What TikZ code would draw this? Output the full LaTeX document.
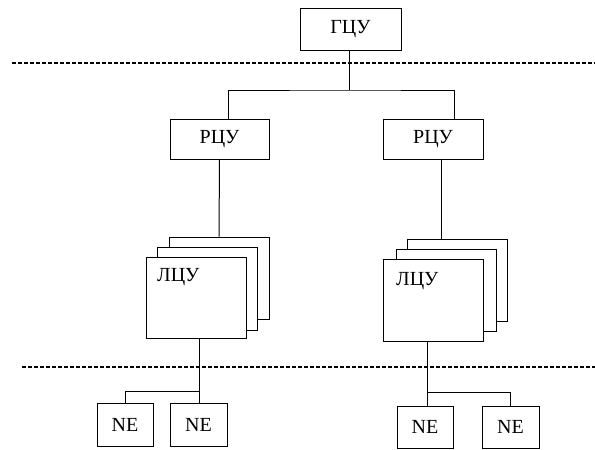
\documentclass[tikz,border=0pt]{standalone}
\usepackage{fontspec}
\setmainfont{Liberation Serif}
\begin{document}
\begin{tikzpicture}[x=1pt,y=-1pt,
  box/.style={draw,line width=1pt,fill=white,inner sep=0pt,font=\fontsize{20}{22}\selectfont},
  wire/.style={line width=1pt},
  sep/.style={line width=2pt,dash pattern=on 4pt off 2pt},
  lbl/.style={inner sep=0pt,anchor=base west,font=\fontsize{20}{22}\selectfont}]
\useasboundingbox (0,0) rectangle (595,450);
% top
\node[box,minimum width=101pt,minimum height=42pt] (g) at (350.5,29) {ГЦУ};
\node[box,minimum width=99pt,minimum height=40pt] (r1) at (219.5,139) {РЦУ};
\node[box,minimum width=100pt,minimum height=40pt] (r2) at (433,139) {РЦУ};
% left stack
\node[box,minimum width=100pt,minimum height=82pt] (lb) at (219,278) {};
\node[box,minimum width=100pt,minimum height=83pt] (lm) at (207,288.5) {};
\node[box,minimum width=100pt,minimum height=81pt] (lf) at (196,297.5) {};
\node[lbl] (lt) at (157,281) {ЛЦУ};
% right stack
\node[box,minimum width=100pt,minimum height=82pt] (rb) at (457,280) {};
\node[box,minimum width=100pt,minimum height=82pt] (rm) at (446,290) {};
\node[box,minimum width=100pt,minimum height=82pt] (rf) at (433,300) {};
\node[lbl] (rt) at (396,285) {ЛЦУ};
% NE
\node[box,minimum width=56pt,minimum height=43pt] (n1) at (125,424.5) {NE};
\node[box,minimum width=57pt,minimum height=43pt] (n2) at (198.5,424.5) {NE};
\node[box,minimum width=56pt,minimum height=42pt] (n3) at (425,427) {NE};
\node[box,minimum width=57pt,minimum height=42pt] (n4) at (510.5,427) {NE};
% separators
\coordinate (s1a) at (12,62.5); \coordinate (s1b) at (595,62.5);
\coordinate (s2a) at (22,367); \coordinate (s2b) at (595,367);
\draw[sep] (s1a) -- (s1b);
\draw[sep] (s2a) -- (s2b);
% connectors
\coordinate (gb) at (349,90);
\coordinate (r1t) at (228,119);
\coordinate (r2t) at (454,119);
\draw[wire] (g.south -| gb) -- (gb);
\draw[wire] (r1t) |- (gb) -| (r2t);
\coordinate (r2b) at (441,159);
\draw[wire] (r1.south) -- (lb.north);
\draw[wire] (r2b) -- (r2b |- rb.north);
\coordinate (j1) at (199,391);
\coordinate (j2) at (427,392);
\draw[wire] (j1 |- lf.south) -- (j1 |- n2.north);
\draw[wire] (n1.north) |- (j1);
\draw[wire] (j2 |- rf.south) -- (j2 |- n3.north);
\draw[wire] (j2) -| (n4.north);
\end{tikzpicture}
\end{document}
